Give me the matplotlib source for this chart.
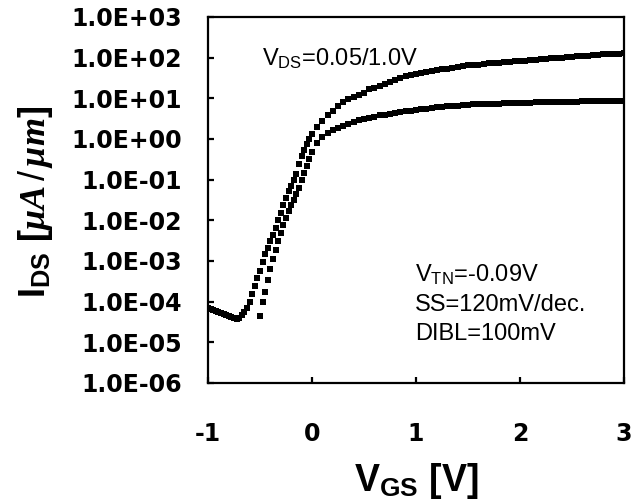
import numpy as np
import matplotlib
matplotlib.use("Agg")
import matplotlib.pyplot as plt
from matplotlib.ticker import FixedLocator, FixedFormatter

# ---- data ----
# V_DS = 1.0 V curve (upper in saturation, left in subthreshold)
vgs_hi = [-1.000, -0.975, -0.950, -0.925, -0.900, -0.875, -0.850, -0.825, -0.800, -0.775,
          -0.750, -0.725, -0.700, -0.675, -0.650, -0.625, -0.600, -0.575, -0.550, -0.525,
          -0.500, -0.475, -0.450, -0.425, -0.400, -0.375, -0.350, -0.325, -0.300, -0.275,
          -0.250, -0.225, -0.200, -0.175, -0.150, -0.125, -0.100, -0.075, -0.050, -0.025,
          0.000, 0.05, 0.10, 0.15, 0.20, 0.25, 0.30, 0.35, 0.40, 0.45,
          0.50, 0.55, 0.60, 0.65, 0.70, 0.75, 0.80, 0.85, 0.90, 0.95,
          1.00, 1.05, 1.10, 1.15, 1.20, 1.25, 1.30, 1.35, 1.40, 1.45,
          1.50, 1.55, 1.60, 1.65, 1.70, 1.75, 1.80, 1.85, 1.90, 1.95,
          2.00, 2.05, 2.10, 2.15, 2.20, 2.25, 2.30, 2.35, 2.40, 2.45,
          2.50, 2.55, 2.60, 2.65, 2.70, 2.75, 2.80, 2.85, 2.90, 2.95, 3.00]
log_ids_hi = [-4.15, -4.17, -4.20, -4.22, -4.25, -4.27, -4.30, -4.33, -4.36, -4.38,
              -4.40, -4.42, -4.40, -4.33, -4.25, -4.16, -4.02, -3.80, -3.62, -3.43,
              -3.24, -3.02, -2.84, -2.67, -2.52, -2.35, -2.18, -1.99, -1.81, -1.63,
              -1.45, -1.29, -1.15, -1.02, -0.86, -0.62, -0.43, -0.26, -0.12, 0.01,
              0.12, 0.30, 0.45, 0.58, 0.70, 0.82, 0.92, 0.98, 1.04, 1.09,
              1.14, 1.22, 1.26, 1.30, 1.36, 1.41, 1.46, 1.51, 1.55, 1.58,
              1.61, 1.63, 1.65, 1.67, 1.69, 1.71, 1.73, 1.75, 1.77, 1.79,
              1.81, 1.82, 1.83, 1.85, 1.86, 1.87, 1.88, 1.89, 1.90, 1.91,
              1.92, 1.93, 1.94, 1.95, 1.96, 1.97, 1.98, 1.99, 2.00, 2.01,
              2.02, 2.03, 2.04, 2.05, 2.06, 2.07, 2.08, 2.09, 2.09, 2.10, 2.11]

# V_DS = 0.05 V curve
vgs_lo = [-0.500, -0.475, -0.450, -0.425, -0.400, -0.375, -0.350, -0.325, -0.300, -0.275,
          -0.250, -0.225, -0.200, -0.175, -0.150, -0.125, -0.100, -0.075, -0.050, -0.025,
          0.000, 0.05, 0.10, 0.15, 0.20, 0.25, 0.30, 0.35, 0.40, 0.45,
          0.50, 0.55, 0.60, 0.65, 0.70, 0.75, 0.80, 0.85, 0.90, 0.95,
          1.00, 1.05, 1.10, 1.15, 1.20, 1.25, 1.30, 1.35, 1.40, 1.45,
          1.50, 1.55, 1.60, 1.65, 1.70, 1.75, 1.80, 1.85, 1.90, 1.95,
          2.00, 2.05, 2.10, 2.15, 2.20, 2.25, 2.30, 2.35, 2.40, 2.45,
          2.50, 2.55, 2.60, 2.65, 2.70, 2.75, 2.80, 2.85, 2.90, 2.95, 3.00]
log_ids_lo = [-4.35, -4.02, -3.75, -3.47, -3.20, -2.95, -2.73, -2.52, -2.31, -2.12,
              -1.94, -1.77, -1.62, -1.49, -1.36, -1.20, -1.02, -0.84, -0.66, -0.48,
              -0.33, -0.10, 0.05, 0.15, 0.22, 0.28, 0.33, 0.38, 0.42, 0.46,
              0.49, 0.52, 0.55, 0.58, 0.60, 0.62, 0.64, 0.66, 0.68, 0.70,
              0.71, 0.73, 0.75, 0.76, 0.78, 0.79, 0.80, 0.81, 0.82, 0.83,
              0.84, 0.85, 0.85, 0.86, 0.86, 0.87, 0.87, 0.88, 0.88, 0.88,
              0.89, 0.89, 0.89, 0.90, 0.90, 0.90, 0.91, 0.91, 0.91, 0.92,
              0.92, 0.92, 0.93, 0.93, 0.93, 0.93, 0.94, 0.94, 0.94, 0.94, 0.94]

x_ticks = [-1, 0, 1, 2, 3]
x_ticklabels = ["-1", "0", "1", "2", "3"]
y_ticks = [1e-6, 1e-5, 1e-4, 1e-3, 1e-2, 1e-1, 1e0, 1e1, 1e2, 1e3]
y_ticklabels = ["1.0E-06", "1.0E-05", "1.0E-04", "1.0E-03", "1.0E-02",
                "1.0E-01", "1.0E+00", "1.0E+01", "1.0E+02", "1.0E+03"]

# ---- style ----
plt.rcParams['mathtext.fontset'] = 'custom'
plt.rcParams['mathtext.rm'] = 'Liberation Sans'
plt.rcParams['mathtext.bf'] = 'Liberation Sans:bold'
plt.rcParams['mathtext.it'] = 'Liberation Serif:italic:bold'

fig = plt.figure(figsize=(6.41, 5.04), dpi=100)
ax = fig.add_axes([208/641, 1-383/504, (624-208)/641, (383-17)/504])

ax.plot(vgs_hi, 10**np.array(log_ids_hi), ls='none', marker='s', ms=4.4, color='black', mew=0)
ax.plot(vgs_lo, 10**np.array(log_ids_lo), ls='none', marker='s', ms=4.4, color='black', mew=0)

ax.set_yscale('log')
ax.set_xlim(-1, 3)
ax.set_ylim(1e-6, 1e3)

ax.xaxis.set_major_locator(FixedLocator(x_ticks))
ax.xaxis.set_major_formatter(FixedFormatter(x_ticklabels))
ax.yaxis.set_major_locator(FixedLocator(y_ticks))
ax.yaxis.set_major_formatter(FixedFormatter(y_ticklabels))
ax.yaxis.set_minor_locator(FixedLocator([]))

for s in ax.spines.values():
    s.set_linewidth(1.6)

ax.tick_params(axis='x', direction='in', length=4, width=1.6, pad=28)
ax.tick_params(axis='y', direction='in', length=4, width=1.6, pad=18.5)
for lab in ax.get_xticklabels() + ax.get_yticklabels():
    lab.set_fontfamily('DejaVu Sans')
    lab.set_fontweight('bold')
    lab.set_fontsize(17)

ax.set_xlabel(r'V$_{\mathbf{GS}}$ [V]', fontfamily='Liberation Sans', fontweight='bold', fontsize=27)
ax.xaxis.set_label_coords(0.5, (383-461)/366)
ax.set_ylabel(r'I$_{\mathbf{DS}}$ [$\mathit{\mu A\,/\,\mu m}$]', fontfamily='Liberation Sans',
              fontweight='bold', fontsize=26)
ax.yaxis.set_label_coords((55-208)/416, (383-202)/366)

ann_font = dict(fontfamily='Liberation Sans', fontsize=17, color='black', va='baseline', ha='left')
ax.text(-0.48, 10**1.81, r'V$_{\mathrm{DS}}$=0.05/1.0V', **ann_font)
ax.text(0.99, 10**-3.51, r'V$_{\mathrm{TN}}$=-0.09V', **ann_font)
ax.text(0.99, 10**-4.23, 'SS=120mV/dec.', **ann_font)
ax.text(0.99, 10**-4.95, 'DIBL=100mV', **ann_font)

fig.savefig('out.png', dpi=100)
